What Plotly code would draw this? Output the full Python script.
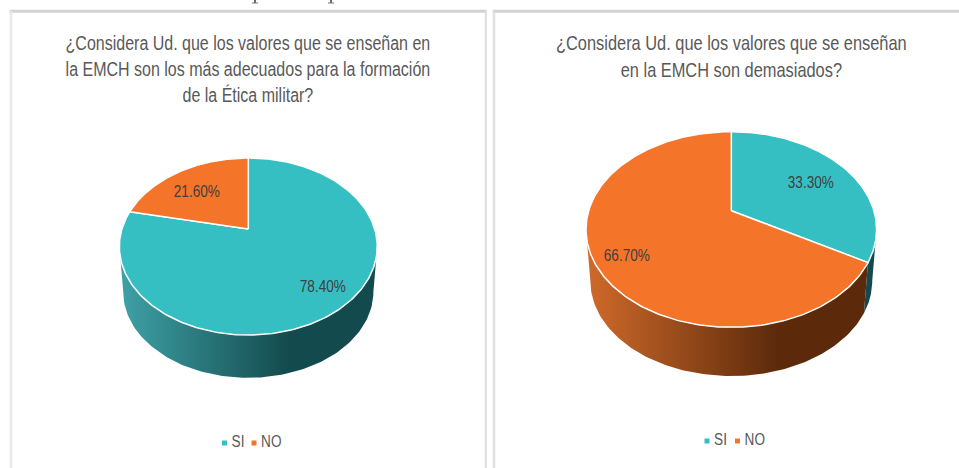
import numpy as np
import plotly.graph_objects as go

# ---- data ----
categories = ["SI", "NO"]
values_left = [78.40, 21.60]
values_right = [33.30, 66.70]
title_left = "¿Considera Ud. que los valores que se enseñan en<br>la EMCH son los más adecuados para la formación<br>de la Ética militar?"
title_right = "¿Considera Ud. que los valores que se enseñan<br>en la EMCH son demasiados?"

# ---- styles / layout ----
W, H = 959, 468
TOP = {"SI": "#35BFC3", "NO": "#F4742A"}
SIDE = {
    "SI": [[0, "#3FA2A7"], [0.66, "#134A4D"], [1, "#134A4D"]],
    "NO": [[0, "#D06A2A"], [0.68, "#5C2A0B"], [1, "#5C2A0B"]],
}
TXT = "#595959"
LBL = "#404040"
FONT = "Liberation Sans"

# perspective pie geometry: vertex, width, height, perspective, extrusion
PIES = [
    dict(values=values_left, cx=248.3, cy=229.0, A=126.4, B=85.0, k=0.198, s=0.97, d=46.0,
         labels=[(323, 286), (197, 191)], title=title_left, tx=248, ty=69,
         legend=[(224.5, 443), (254, 443)]),
    dict(values=values_right, cx=731.3, cy=210.7, A=142.6, B=94.2, k=0.192, s=0.97, d=52.2,
         labels=[(811, 182), (627, 255)], title=title_right, tx=731.5, ty=55.5,
         legend=[(707, 441), (737.5, 441)]),
]


def project(p, theta):
    u, v = np.sin(theta), np.cos(theta)
    w = 1 + p["k"] * v
    return p["A"] * u / w, p["B"] * v / w


fig = go.Figure()
annotations = []

for p in PIES:
    total = sum(p["values"])
    edges = np.cumsum([0] + p["values"]) / total * 2 * np.pi
    front = np.arccos(-p["k"])  # first angle at which the rim faces the viewer
    # rim first, so that the top face sits over it
    for i, cat in enumerate(categories):
        a0, a1 = max(edges[i], front), min(edges[i + 1], 2 * np.pi - front)
        if a1 <= a0:
            continue
        th = np.linspace(a0, a1, 120)
        X, Y = project(p, th)
        xs = np.r_[p["cx"] + X, p["cx"] + X[::-1] * p["s"]]
        ys = np.r_[p["cy"] - Y, p["cy"] - Y[::-1] * p["s"] + p["d"]]
        is_main = (a1 - a0) > 1
        trace = dict(x=np.r_[xs, xs[0]], y=np.r_[ys, ys[0]], mode="lines", fill="toself",
                     line=dict(width=0), hoverinfo="skip", showlegend=False)
        if is_main:
            trace["fillgradient"] = dict(type="horizontal", colorscale=SIDE[cat])
            trace["fillcolor"] = SIDE[cat][-1][1]
        else:
            trace["fillcolor"] = SIDE[cat][-1][1]
        fig.add_trace(go.Scatter(**trace))
    # top face
    for i, cat in enumerate(categories):
        th = np.linspace(edges[i], edges[i + 1], 240)
        X, Y = project(p, th)
        xs = np.r_[p["cx"], p["cx"] + X, p["cx"]]
        ys = np.r_[p["cy"], p["cy"] - Y, p["cy"]]
        fig.add_trace(go.Scatter(x=xs, y=ys, mode="lines", fill="toself", fillcolor=TOP[cat],
                                 line=dict(color="#FFFFFF", width=1.5), name=cat,
                                 hoverinfo="name", showlegend=False))
    # data labels
    for (lx, ly), v in zip(p["labels"], p["values"]):
        annotations.append(dict(x=lx, y=ly, text=f"{v:.2f}%", showarrow=False, xanchor="center", yanchor="middle",
                                font=dict(family=FONT, size=17, color=LBL)))
    # title
    annotations.append(dict(x=p["tx"], y=p["ty"], text=p["title"], showarrow=False, align="center",
                            xanchor="center", yanchor="middle", name="title",
                            font=dict(family=FONT, size=20.5 if p["title"] is title_right else 20, color=TXT)))
    # legend
    for (mx, my), cat in zip(p["legend"], categories):
        fig.add_trace(go.Scatter(x=[mx], y=[my], mode="markers+text", text=[cat], textposition="middle right",
                                 marker=dict(symbol="square", size=5, color=TOP[cat]),
                                 textfont=dict(family=FONT, size=17, color=TXT),
                                 cliponaxis=False, hoverinfo="skip", showlegend=False))

FR = "#D2D2D2"
shapes = [
    dict(type="line", xref="x", yref="y", x0=9.5, x1=486.7, y0=11.2, y1=11.2, line=dict(color=FR, width=3)),
    dict(type="line", xref="x", yref="y", x0=492.7, x1=959, y0=11.2, y1=11.2, line=dict(color=FR, width=3)),
    dict(type="line", xref="x", yref="y", x0=11, x1=11, y0=11, y1=468, line=dict(color="#E8E8E8", width=2.5)),
    dict(type="line", xref="x", yref="y", x0=485.8, x1=485.8, y0=11, y1=468, line=dict(color="#DCDCDC", width=2)),
    dict(type="line", xref="x", yref="y", x0=494, x1=494, y0=11, y1=468, line=dict(color="#E0E0E0", width=2.5)),
]
# ink remnants of the cropped line of page text above the panels (illegible, not chart text)
for sx in (255, 331):
    shapes.append(dict(type="line", xref="x", yref="y", x0=sx, x1=sx, y0=0, y1=3, line=dict(color="#444444", width=1.6)))
    shapes.append(dict(type="line", xref="x", yref="y", x0=sx - 3, x1=sx + 3, y0=3, y1=3, line=dict(color="#777777", width=1)))

fig.update_layout(
    width=W, height=H, margin=dict(l=0, r=0, t=0, b=0), paper_bgcolor="#FFFFFF", plot_bgcolor="#FFFFFF",
    showlegend=False, annotations=annotations, shapes=shapes,
    xaxis=dict(range=[0, W], visible=False, fixedrange=True),
    yaxis=dict(range=[H, 0], visible=False, fixedrange=True),
)

# The reference text is horizontally condensed: squeeze the real SVG text elements.
POST = """
document.body.style.margin='0';document.body.style.overflow='hidden';
var S=0.8;
document.querySelectorAll('text.annotation-text').forEach(function(el){
  var b=el.getBBox(),c=b.x+b.width/2,t=el.getAttribute('transform')||'';
  el.setAttribute('transform',t+' translate('+c+' 0) scale('+S+' 1) translate('+(-c)+' 0)');
});
document.querySelectorAll('.textpoint text').forEach(function(el){
  var b=el.getBBox(),c=b.x,t=el.getAttribute('transform')||'';
  el.setAttribute('transform',t+' translate('+(c+3)+' 0) scale('+S+' 1) translate('+(-c)+' 0)');
});
"""
fig.write_html("out.html", config={"displayModeBar": False}, post_script=POST)
